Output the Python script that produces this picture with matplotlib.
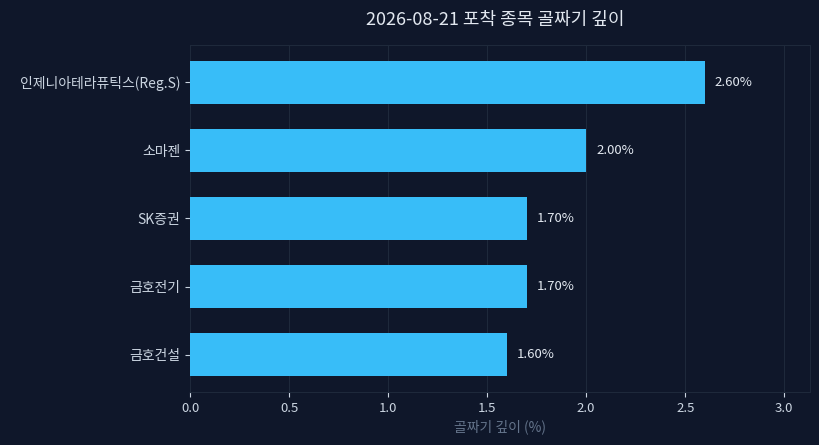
import matplotlib
matplotlib.use("Agg")
import matplotlib.pyplot as plt

plt.rcParams['font.family'] = ['Noto Sans CJK KR', 'DejaVu Sans']

categories = ["인제니아테라퓨틱스(Reg.S)", "소마젠", "SK증권", "금호전기", "금호건설"]
values = [2.60, 2.00, 1.70, 1.70, 1.60]
title = "2026-08-21 포착 종목 골짜기 깊이"
xlabel = "골짜기 깊이 (%)"

bg = "#0f172a"
fig = plt.figure(figsize=(8.19, 4.45), dpi=100, facecolor=bg)
ax = fig.add_axes([190/819, 1-392/445, 620/819, 347/445], facecolor=bg)
y = list(range(len(categories)))[::-1]
ax.barh(y, values, height=0.62, color="#38bdf8", zorder=3)
for yi, v in zip(y, values):
    ax.text(v + 0.05, yi, f"{v:.2f}%", va="center", ha="left", color="#e2e8f0", fontsize=9.5)
ax.set_yticks(y)
ax.set_yticklabels(categories, color="#e2e8f0", fontsize=10)
ax.set_xlim(0, 3.13)
ax.set_ylim(-0.55, 4.55)
ax.set_xticks([0, 0.5, 1.0, 1.5, 2.0, 2.5, 3.0])
ax.tick_params(axis='x', colors="#cbd5e1", labelsize=9.5)
ax.tick_params(axis='y', colors="#cbd5e1")
ax.grid(axis='x', color="#1e293b", linewidth=0.8, zorder=0)
for s in ax.spines.values():
    s.set_color("#1e293b")
ax.set_xlabel(xlabel, color="#64748b", fontsize=10, labelpad=3)
fig.suptitle(title, color="#e2e8f0", fontsize=13, x=0.605, y=0.975)
fig.savefig("out.png", dpi=100, facecolor=bg)
